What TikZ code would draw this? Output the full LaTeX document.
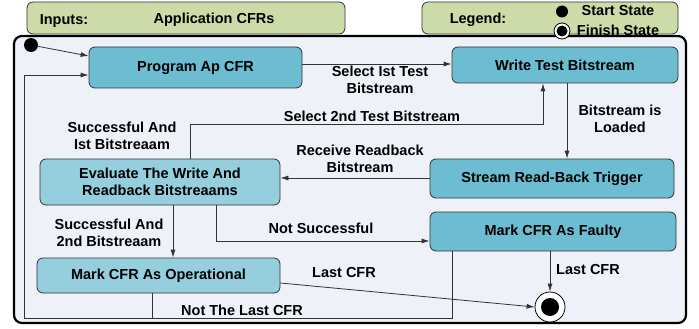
\documentclass[tikz,border=0pt]{standalone}
\usepackage{fontspec}
\setmainfont{Liberation Sans}
\usetikzlibrary{arrows.meta}

\definecolor{stateblue}{HTML}{6CBDD1}
\definecolor{statelight}{HTML}{95CEDC}
\definecolor{inputgreen}{HTML}{CDDBA8}
\definecolor{framebg}{HTML}{EEF1F7}
\definecolor{edgegray}{HTML}{333333}

\begin{document}
\begin{tikzpicture}[x=1pt, y=-1pt,
    every node/.style={font=\fontsize{14.5}{17}\selectfont\bfseries, align=center, inner sep=0pt},
    conn/.style={draw=edgegray, line width=0.8pt},
    >={Latex[length=8pt, width=5pt]}]
\useasboundingbox (0,0) rectangle (699,329);

% outer frame
\draw[line width=2.2pt, rounded corners=8pt, fill=framebg] (14,36) rectangle (686,323);

\begin{scope}[every node/.append style={rectangle, rounded corners=6pt, draw=edgegray, thick, fill=inputgreen}]
    \node (inputs) at (186, 18) [minimum width=318pt, minimum height=32pt] {};
    \node (legend) at (550, 18) [minimum width=256pt, minimum height=32pt] {};
\end{scope}

% header texts
\node (inputlbl) at (64, 21) {Inputs:};
\node (cfrlbl) at (214, 20) {Application CFRs};
\node (legendlbl) at (478, 20) {Legend:};
\node (startlbl) at (618, 11) {Start State};
\node (finishlbl) at (618, 30) {Finish State};
\node (startkey) at (562, 11.5) [circle, fill=black, minimum size=12pt] {};
\node (finishkey) at (562, 31) [circle, draw=black, thick, fill=white, minimum size=16pt,
    path picture={\fill[black] (path picture bounding box.center) circle (5.5pt);}] {};

\begin{scope}[every node/.append style={rectangle, rounded corners=6pt, draw=edgegray, thick, fill=stateblue}]
    \node (prog) at (195.5, 67.5) [minimum width=213pt, minimum height=41pt] {Program Ap CFR};
    \node (write) at (565, 65) [minimum width=226pt, minimum height=36pt] {Write Test Bitstream};
    \node (stream) at (552, 178.5) [minimum width=244pt, minimum height=39pt] {Stream Read-Back Trigger};

    % evaluation
    \node (eval) at (160, 182) [minimum width=240pt, minimum height=46pt, fill=statelight] {Evaluate The Write And\\Readback Bitstreaams};
    \node (faulty) at (553, 231.5) [minimum width=246pt, minimum height=39pt] {Mark CFR As Faulty};
    \node (oper) at (158.5, 275.5) [minimum width=243pt, minimum height=35pt, fill=statelight] {Mark CFR As Operational};
\end{scope}

\node (start) at (31, 45) [circle, fill=black, minimum size=14pt] {};
\node (finish) at (550, 307) [circle, draw=black, thick, fill=white, minimum size=30pt,
    path picture={\fill[black] (path picture bounding box.center) circle (9pt);}] {};

% bend points
\coordinate (loop) at (24, 318);
\coordinate (progin) at (0, 75);
\coordinate (opout) at (152, 0);
\coordinate (faultout) at (452, 0);
\coordinate (sel1) at (0, 64);
\coordinate (loadx) at (567, 0);
\coordinate (rby) at (0, 178);
\coordinate (sel2a) at (190, 124);
\coordinate (sel2b) at (543, 124);
\coordinate (okx) at (173, 0);
\coordinate (nok) at (216, 241);
\coordinate (lasty) at (0, 283);

% connectors
\draw[conn, ->] (start) -- ([yshift=11.5pt]prog.west);
\draw[conn, ->] (oper.south -| opout) |- (loop) |- (prog.west |- progin);
\draw[conn] (faulty.south -| faultout) |- (opout |- loop);
\draw[conn, ->] (prog.east |- sel1) -- (write.west |- sel1);
\draw[conn, ->] (write.south -| loadx) -- (stream.north -| loadx);
\draw[conn, ->] (stream.west |- rby) -- (eval.east |- rby);
\draw[conn, ->] (eval.north -| sel2a) |- (sel2b) -- (write.south -| sel2b);
\draw[conn, ->] (eval.south -| okx) -- (oper.north -| okx);
\draw[conn, ->] (eval.south -| nok) |- (faulty.west |- nok);
\draw[conn, ->] (oper.east |- lasty) -- (finish.west);
\draw[conn, ->] (faulty.south -| finish) -- (finish.north);

% connector labels
\node (sel1lbl) at (380, 80) {Select Ist Test\\Bitstream};
\node (loadlbl) at (620, 119) {Bitstream is\\Loaded};
\node (sel2lbl) at (372, 116) {Select 2nd Test Bitstream};
\node (ok1lbl) at (122, 136) {Successful And\\Ist Bitstreaam};
\node (rblbl) at (360, 159) {Receive Readback\\Bitstream};
\node (ok2lbl) at (109, 233) {Successful And\\2nd Bitstreaam};
\node (noklbl) at (321, 228) {Not Successful};
\node (last1lbl) at (344, 273) {Last CFR};
\node (notlastlbl) at (242, 310) {Not The Last CFR};
\node (last2lbl) at (588, 270) {Last CFR};
\end{tikzpicture}
\end{document}
